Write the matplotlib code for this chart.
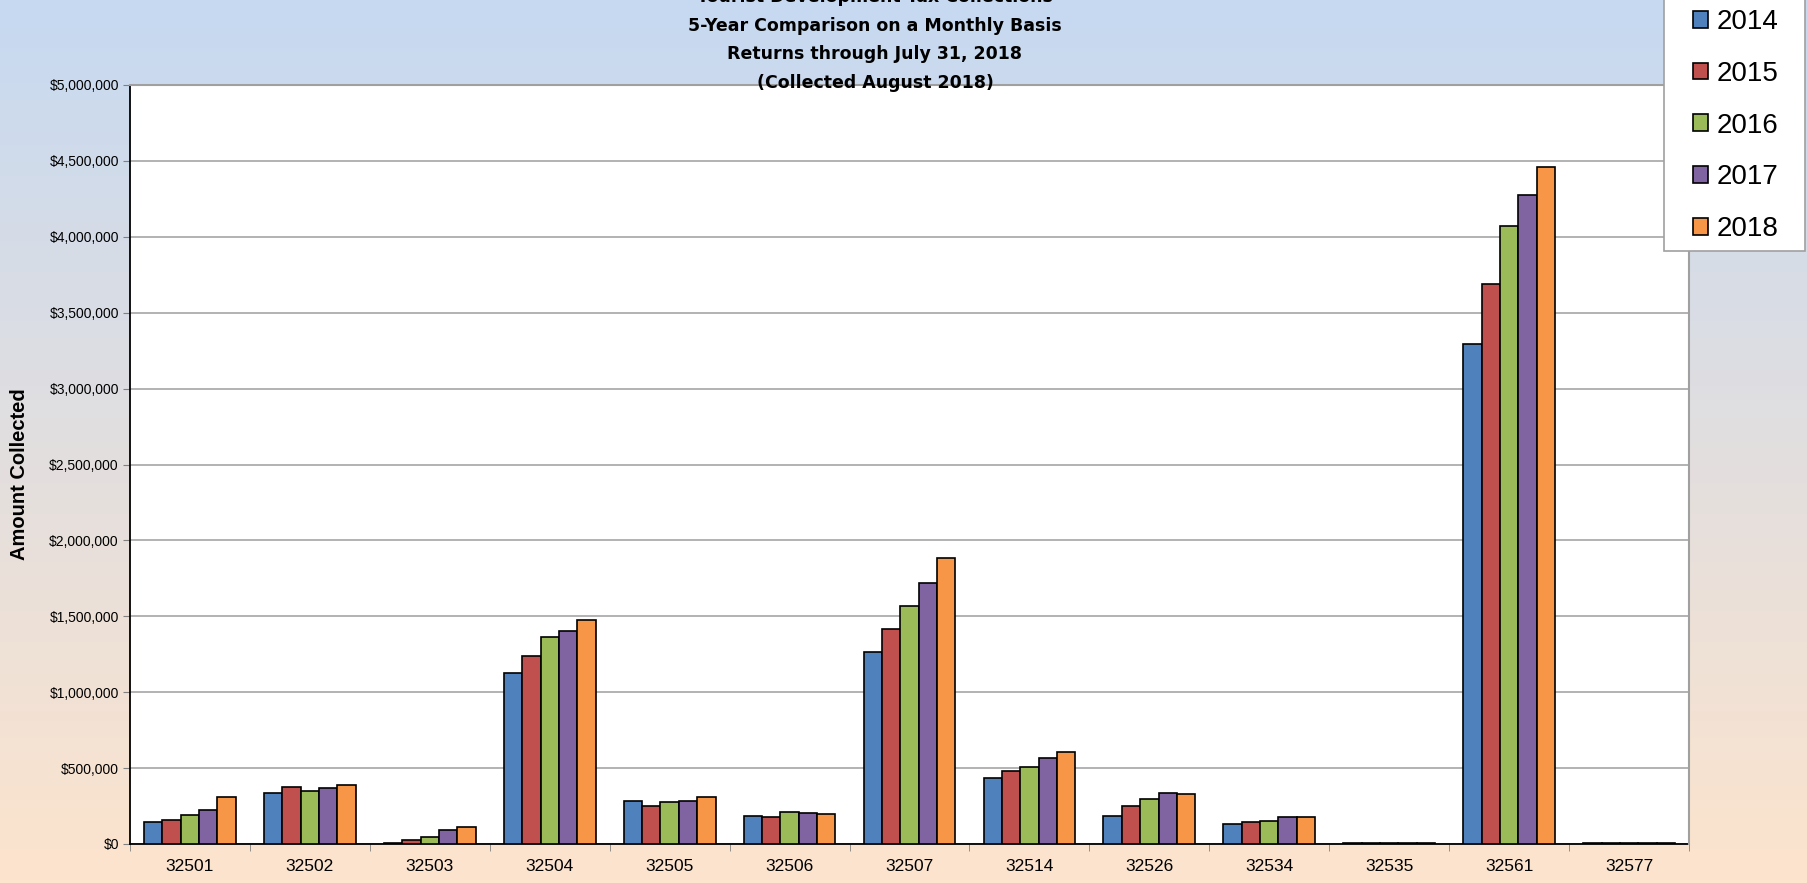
import numpy                            as np
from matplotlib import pyplot           as plt
from matplotlib.colors import LinearSegmentedColormap
from matplotlib.patches import Rectangle
from matplotlib.ticker import FuncFormatter, MultipleLocator

# zip codes on the x axis
ZIPCODES    = ['32501', '32502', '32503', '32504', '32505', '32506', '32507',
               '32514', '32526', '32534', '32535', '32561', '32577']
# legend labels
YEARS       = ['2014', '2015', '2016', '2017', '2018']
# collections per year (dollars)
Y2014       = [147000, 338000,  8000, 1127000, 285000, 186000, 1263000,
               434000, 184000, 134000, 4000, 3291000, 4000]
Y2015       = [158000, 373000, 26000, 1241000, 248000, 178000, 1417000,
               482000, 252000, 143000, 4000, 3689000, 4000]
Y2016       = [193000, 351000, 44000, 1362000, 278000, 208000, 1570000,
               504000, 298000, 151000, 4000, 4073000, 4000]
Y2017       = [224000, 371000, 90000, 1403000, 281000, 204000, 1717000,
               564000, 333000, 175000, 4000, 4273000, 4000]
Y2018       = [309000, 388000, 112000, 1478000, 311000, 195000, 1886000,
               605000, 329000, 180000, 4000, 4458000, 4000]
SERIES      = [Y2014, Y2015, Y2016, Y2017, Y2018]
COLORS      = ['#4f81bd', '#c0504d', '#9bbb59', '#8064a2', '#f79646']
TITLE       = ['Tourist Development Tax Collections',
               '5-Year Comparison on a Monthly Basis',
               'Returns through July 31, 2018',
               '(Collected August 2018)']

plt.rcParams['font.family'] = ['Liberation Sans', 'DejaVu Sans']

W, H = 1808, 883
fig = plt.figure(figsize=(W/100, H/100), dpi=100)

# background gradient (light blue -> peach)
bg = fig.add_axes([0, 0, 1, 1], zorder=-10)
cmap = LinearSegmentedColormap.from_list('bg', ['#c6d9f1', '#fde4cd'])
bg.imshow(np.linspace(0, 1, 256).reshape(-1, 1), aspect='auto', cmap=cmap,
          extent=[0, 1, 0, 1])
bg.axis('off')

ax = fig.add_axes([130/W, 1-844/H, (1689-130)/W, (844-85)/H])
ax.set_facecolor('white')

x       = np.arange(len(ZIPCODES))
width   = 0.153
for i, vals in enumerate(SERIES):
    ax.bar(x + (i - 2)*width, vals, width, color=COLORS[i], edgecolor='black',
           linewidth=1.2, label=YEARS[i], zorder=3)

ax.set_xlim(-0.5, len(ZIPCODES) - 0.5)
ax.set_ylim(0, 5000000)
ax.yaxis.set_major_locator(MultipleLocator(500000))
ax.yaxis.set_major_formatter(FuncFormatter(lambda v, p: '${:,.0f}'.format(v)))
ax.grid(axis='y', color='#a6a6a6', linewidth=1.2, zorder=0)

ax.set_xticks(x)
ax.set_xticklabels(ZIPCODES, fontsize=12.5)
ax.set_xticks(np.arange(len(ZIPCODES) + 1) - 0.5, minor=True)
ax.tick_params(axis='x', which='major', length=0, pad=11)
ax.tick_params(axis='x', which='minor', length=5, color='#808080')
ax.tick_params(axis='y', labelsize=10, length=5, color='#808080', pad=3)

for s in ['left', 'bottom']:
    ax.spines[s].set_color('black')
    ax.spines[s].set_linewidth(1.3)
    ax.spines[s].set_zorder(2)
for s in ['top', 'right']:
    ax.spines[s].set_color('#a0a0a0')
    ax.spines[s].set_linewidth(1.5)

fig.text(20/W, 1-474/H, 'Amount Collected', rotation=90, fontsize=14.5,
         fontweight='bold', ha='center', va='center')

fig.text(875/W, 1-40/H, '\n'.join(TITLE), family='DejaVu Sans',
         fontsize=12.5, fontweight='bold', ha='center', va='center',
         linespacing=1.76)

# legend box runs off the top edge of the picture
fig.patches.append(Rectangle((1664/W, 1-251/H), (1805-1664)/W, 260/H,
                             transform=fig.transFigure, facecolor='white',
                             edgecolor='#a0a0a0', linewidth=1.2, zorder=5))
leg = fig.legend(loc='upper left', bbox_to_anchor=(1693/W, 1-9/H),
                 fontsize=20, frameon=False, handlelength=0.55,
                 handleheight=0.55, handletextpad=0.3, labelspacing=0.93,
                 borderpad=0, borderaxespad=0)
leg.set_zorder(6)

plt.savefig('out.png', dpi=100)
